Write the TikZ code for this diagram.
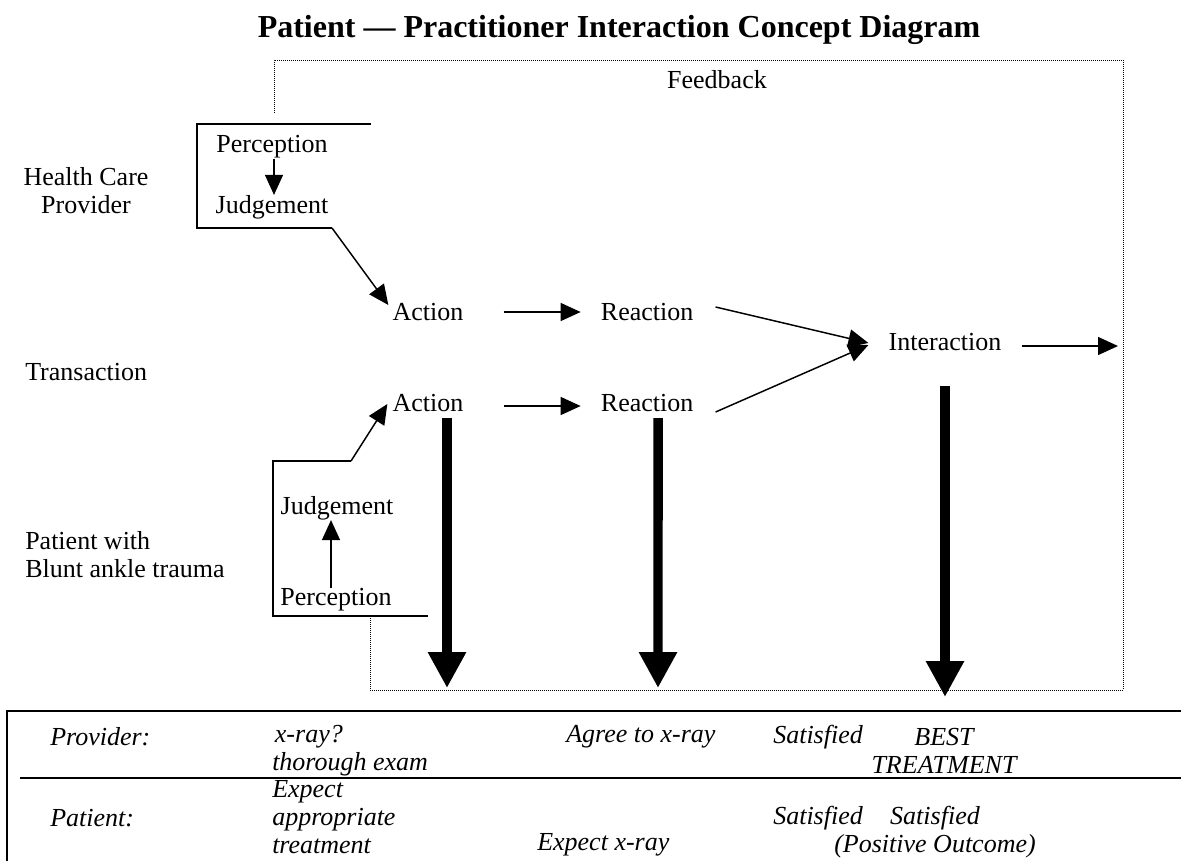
\documentclass[tikz,border=0pt]{standalone}
\usepackage{fontspec}
\setmainfont{Liberation Serif}
\usetikzlibrary{arrows.meta, positioning, calc}

\begin{document}
\begin{tikzpicture}[x=0.75pt, y=-0.75pt,
    txt/.style={font=\fontsize{19.5}{21}\selectfont, inner sep=0pt},
    tab/.style={font=\fontsize{19.5}{21}\selectfont\itshape, inner sep=0pt},
    thinarr/.style={-{Triangle[length=15pt, width=13.5pt]}, line width=1.1pt},
    fatarr/.style={-{Triangle[length=27pt, width=27pt]}, line width=7pt},
    fbline/.style={line width=0.75pt, dash pattern=on 0.75pt off 0.75pt}]
  \useasboundingbox (0,0) rectangle (1181,861);

  \node[font=\bfseries\fontsize{24}{28}\selectfont] (title) at (619,30)
    {Patient — Practitioner Interaction Concept Diagram};

  % Feedback loop
  \draw[fbline] (274,113) -- (274,60) -- (1123,60) -- (1123,690) -- (370,690) -- (370,618);
  \node[txt] (feedback) at (717,80) {Feedback};

  % Row labels
  \node[txt, align=center] (hcp) at (86,191) {Health Care\\Provider};
  \node[txt, anchor=west] (trans) at (25,372) {Transaction};
  \node[txt, anchor=west, align=left] (patient) at (25,555) {Patient with\\Blunt ankle trauma};

  % Provider side
  \draw[line width=1.5pt] (371,124) -- (197,124) -- (197,228) -- (332,228);
  \coordinate (pcorner) at (332,228);
  \node[txt] (per1) at (272,147) {Perception};
  \node[txt] (jud1) at (272,207) {Judgement};
  \draw[-{Triangle[length=15pt, width=13.5pt]}, line width=0.8pt] ([xshift=1.5pt]per1.south) -- ([xshift=1.5pt]jud1.north);

  % Patient side
  \draw[line width=1.5pt] (351,461) -- (273,461) -- (273,616) -- (428,616);
  \coordinate (qcorner) at (351,461);
  \node[txt] (jud2) at (337,508) {Judgement};
  \node[txt] (per2) at (336,600) {Perception};
  \draw[thinarr] ($(per2.north)+(-5,0)$) -- ($(jud2.south)+(-6,0)$);

  % Transaction chain
  \node[txt] (act1) at (428,312) {Action};
  \node[txt, right=137 of act1] (rea1) {Reaction};
  \node[txt] (act2) at (428,403) {Action};
  \node[txt, right=137 of act2] (rea2) {Reaction};
  \node[txt] (inter) at (945,342) {Interaction};

  \draw[thinarr] (pcorner) -- ($(act1.north west)+(-4,2)$);
  \draw[thinarr] (qcorner) -- ($(act2.west)+(-5,1)$);
  \draw[thinarr] ($(act1.east)+(40,0)$) -- ($(rea1.west)+(-20,0)$);
  \draw[thinarr] ($(act2.east)+(40,3)$) -- ($(rea2.west)+(-20,3)$);
  \draw[thinarr] ($(rea1.east)+(22,-5)$) -- ($(inter.west)+(-20,1)$);
  \draw[thinarr] ($(rea2.east)+(22,9)$) -- ($(inter.west)+(-20,3)$);
  \coordinate (out) at (1118,346);
  \draw[thinarr] ($(inter.east)+(20,4)$) -- (out);

  % Outcomes
  \coordinate (o1) at (447,688);
  \coordinate (o2) at (658,688);
  \coordinate (o3) at (945,697);
  \draw[fatarr] ($(act2.south)+(19,6)$) -- (o1);
  \draw[fatarr] ($(rea2.south)+(11,6)$) -- (o2);
  \draw[fatarr] ($(inter.south)+(0,35)$) -- (o3);

  % Table
  \draw[line width=2.2pt] (7,861) -- (7,711) -- (1181,711);
  \draw[line width=2.2pt] (20,778) -- (1181,778);
  \node[tab, anchor=west] (prov) at (50,737) {Provider:};
  \node[tab, anchor=west, align=left] (xray) at (272,751) {\hspace*{2pt}x-ray?\\thorough exam};
  \node[tab, anchor=west] (agree) at (566,737) {Agree to x-ray};
  \node[tab, anchor=west] (sat1) at (773,737) {Satisfied};
  \node[tab, align=center] (best) at (944,751) {BEST\\TREATMENT};
  \node[tab, anchor=west] (pat) at (50,818) {Patient:};
  \node[tab, anchor=west, align=left] (expect) at (272,817) {Expect\\appropriate\\treatment};
  \node[tab, anchor=west] (expx) at (537,845) {Expect x-ray};
  \node[tab, anchor=west] (sat2) at (773,818) {Satisfied};
  \node[tab, align=center] (sat3) at (935,832) {Satisfied\\(Positive Outcome)};
\end{tikzpicture}
\end{document}
